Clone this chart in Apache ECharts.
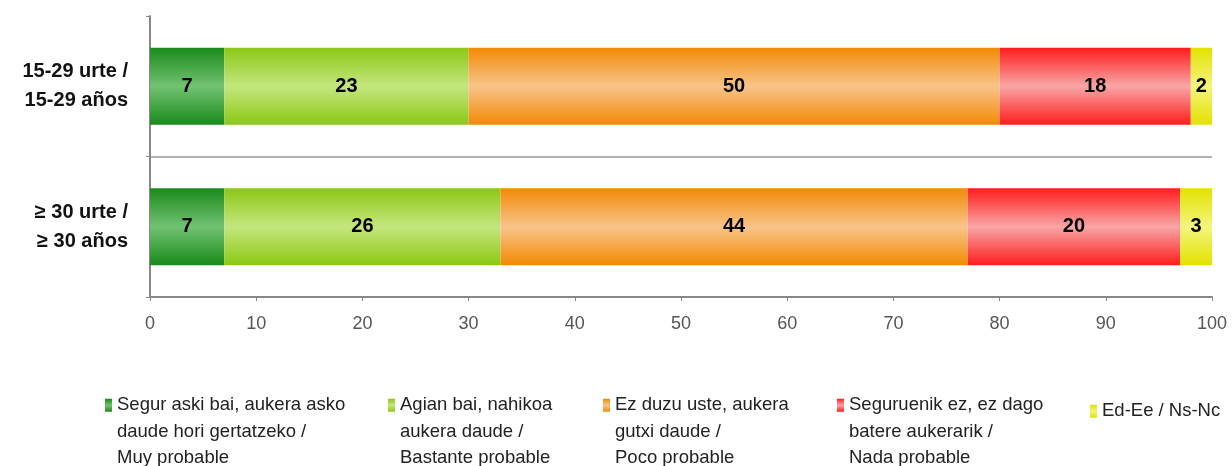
<!DOCTYPE html>
<html>
<head>
<meta charset="utf-8">
<script src="https://cdn.jsdelivr.net/npm/echarts@6/dist/echarts.min.js"></script>
<style>
  html, body { margin: 0; padding: 0; background: #fff; }
  #main { width: 1232px; height: 466px; }
</style>
</head>
<body>
<div id="main"></div>
<script>
// categorias (de arriba a abajo)
var categories = ['15-29 urte /\n15-29 años', '≥ 30 urte /\n≥ 30 años'];
var seriesNames = [
  'Segur aski bai, aukera asko\ndaude hori gertatzeko /\nMuy probable',
  'Agian bai, nahikoa\naukera daude /\nBastante probable',
  'Ez duzu uste, aukera\ngutxi daude /\nPoco probable',
  'Seguruenik ez, ez dago\nbatere aukerarik /\nNada probable',
  'Ed-Ee / Ns-Nc'
];
var muyProbable = [7, 7];
var bastanteProbable = [23, 26];
var pocoProbable = [50, 44];
var nadaProbable = [18, 20];
var nsnc = [2, 3];
var xTicks = [0, 10, 20, 30, 40, 50, 60, 70, 80, 90, 100];

// colores: borde / centro del degradado
var edgeColors = ['#1a8a1a', '#8cc814', '#f28a05', '#ff1c1c', '#e2e200'];
var midColors = ['#72c272', '#c4e67e', '#f8c48a', '#f8a6a6', '#f4f47e'];
var legendLeft = [105, 388, 603, 837, 1090];
var FONT = 'Liberation Sans, Arial, sans-serif';

function grad(i, a, b, c) {
  return new echarts.graphic.LinearGradient(0, 0, 0, 1, [
    { offset: a, color: edgeColors[i] },
    { offset: b, color: midColors[i] },
    { offset: c, color: edgeColors[i] }
  ]);
}

var allData = [muyProbable, bastanteProbable, pocoProbable, nadaProbable, nsnc];

var chartDom = document.getElementById('main');
var myChart = echarts.init(chartDom);
var option;

var series = allData.map(function (d, i) {
  return {
    name: seriesNames[i],
    type: 'bar',
    stack: 'total',
    barWidth: 77,
    data: d,
    itemStyle: { color: grad(i, 0, 0.5, 1) },
    label: {
      show: true,
      position: 'inside',
      color: '#000',
      fontSize: 20,
      fontWeight: 'bold',
      fontFamily: FONT
    },
    emphasis: { disabled: true }
  };
});

// icono arriba: rectangulo 7x13 + punto invisible para alargar la caja
var legendIcon = 'path://M0,0h7v13h-7zM0,66h0.001';

var legends = seriesNames.map(function (n, i) {
  var multi = n.indexOf('\n') >= 0;
  return {
    data: [{
      name: n,
      icon: multi ? legendIcon : 'rect',
      itemStyle: { color: multi ? grad(i, 0, 0.1, 0.197) : grad(i, 0, 0.5, 1) }
    }],
    left: legendLeft[i],
    top: multi ? 392 : 398,
    padding: 0,
    itemWidth: 7,
    itemHeight: multi ? 66 : 13,
    itemGap: 0,
    selectedMode: false,
    textStyle: {
      fontSize: 18.5,
      lineHeight: 26.5,
      color: '#222',
      fontFamily: FONT
    }
  };
});

option = {
  animation: false,
  grid: { left: 150, right: 20, top: 16, bottom: 169, containLabel: false },
  legend: legends,
  xAxis: {
    type: 'value',
    min: 0,
    max: 100,
    interval: 10,
    axisLine: { show: true, lineStyle: { color: '#888', width: 2 } },
    axisTick: { show: true, length: 4, lineStyle: { color: '#888' } },
    splitLine: { show: false },
    axisLabel: {
      color: '#555',
      fontSize: 18,
      margin: 18,
      fontFamily: FONT,
      formatter: function (v) { return xTicks.indexOf(v) >= 0 ? String(v) : ''; }
    }
  },
  yAxis: {
    type: 'category',
    inverse: true,
    data: categories,
    axisLine: { show: true, lineStyle: { color: '#888', width: 2 } },
    axisTick: { show: true, length: 4, lineStyle: { color: '#888' } },
    splitLine: {
      show: true,
      lineStyle: { color: ['rgba(0,0,0,0)', '#999', 'rgba(0,0,0,0)'], width: 1.5 }
    },
    axisLabel: {
      color: '#111',
      fontSize: 20,
      fontWeight: 'bold',
      lineHeight: 29,
      margin: 22,
      padding: [6, 0, 0, 0],
      fontFamily: FONT
    }
  },
  series: series
};

option && myChart.setOption(option);
</script>
</body>
</html>
